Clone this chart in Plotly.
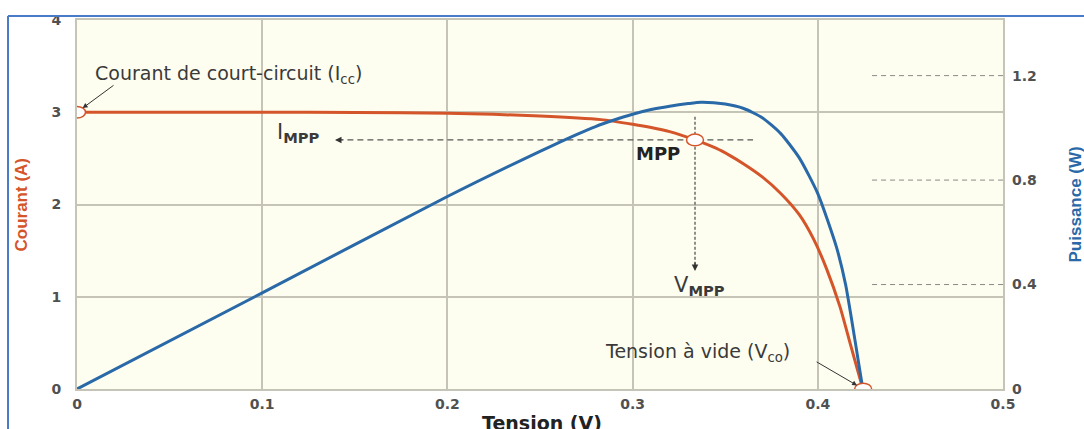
import plotly.graph_objects as go

# ---- data ----
tension_i = [0, 0.05, 0.1, 0.15, 0.2, 0.25, 0.283, 0.30, 0.31, 0.32, 0.3337, 0.345, 0.3526, 0.36, 0.37, 0.38, 0.39, 0.3976, 0.4048, 0.412, 0.4174, 0.4228, 0.4243]
courant = [3.0, 3.0, 3.0, 2.998, 2.99, 2.96, 2.92, 2.87, 2.835, 2.79, 2.70, 2.61, 2.53, 2.44, 2.30, 2.12, 1.89, 1.63, 1.30, 0.89, 0.50, 0.11, 0.0]

tension_p = [0, 0.1, 0.2, 0.25, 0.261, 0.27, 0.28, 0.29, 0.30, 0.31, 0.32, 0.33, 0.337, 0.35, 0.36, 0.37, 0.38, 0.39, 0.40, 0.41, 0.415, 0.42, 0.4243]
puissance = [0, 0.368, 0.737, 0.91, 0.946, 0.975, 1.005, 1.030, 1.052, 1.070, 1.083, 1.093, 1.098, 1.091, 1.074, 1.039, 0.978, 0.885, 0.748, 0.545, 0.40, 0.19, 0.0]

x_ticks = [0, 0.1, 0.2, 0.3, 0.4, 0.5]
x_tick_labels = ["0", "0.1", "0.2", "0.3", "0.4", "0.5"]
y_ticks = [0, 1, 2, 3, 4]
y2_ticks = [0, 0.4, 0.8, 1.2]
y2_tick_labels = ["0", "0.4", "0.8", "1.2"]

icc = (0, 3.0)
mpp = (0.3337, 2.70)
vco = (0.4245, 0.0)
points_v = [icc[0], mpp[0], vco[0]]
points_i = [icc[1], mpp[1], vco[1]]

ORANGE = "#D5552A"
BLUE = "#2A69A8"
GRID = "#C6C4B6"
TXT = "#3A3A3A"
FONT = "DejaVu Sans, Liberation Sans, Arial, sans-serif"
TFONT = "Liberation Sans, Arial, sans-serif"

fig = go.Figure()

fig.add_trace(go.Scatter(x=tension_p, y=puissance, mode="lines", yaxis="y2",
                         line=dict(color=BLUE, width=3, shape="spline", smoothing=0.6),
                         hoverinfo="skip"))
fig.add_trace(go.Scatter(x=tension_i, y=courant, mode="lines",
                         line=dict(color=ORANGE, width=3, shape="spline", smoothing=0.6),
                         hoverinfo="skip"))

# MPP dashed guides
fig.add_trace(go.Scatter(x=[0.146, 0.365], y=[mpp[1], mpp[1]], mode="lines",
                         line=dict(color="#555", width=1.3, dash="6px,4px"), hoverinfo="skip"))
fig.add_trace(go.Scatter(x=[mpp[0], mpp[0]], y=[2.95, 1.33], mode="lines",
                         line=dict(color="#555", width=1.3, dash="3px,2px"), hoverinfo="skip"))

# right-axis dashed tick guides
for v in y2_ticks[1:]:
    fig.add_trace(go.Scatter(x=[0.4293, 0.5], y=[v, v], mode="lines", yaxis="y2",
                             line=dict(color="#8A8A8A", width=1, dash="5px,4px"), hoverinfo="skip"))

# open (slightly stretched) markers anchored on the data points
shapes = []
for v, i in zip(points_v, points_i):
    shapes.append(dict(type="circle", xref="x", yref="y", xsizemode="pixel", ysizemode="pixel",
                       xanchor=v, yanchor=i, x0=-8.5, x1=8.5, y0=-5.8, y1=5.8,
                       fillcolor="white", line=dict(color=ORANGE, width=1.5), layer="above"))

ann = []
# Icc
ann.append(dict(x=0.0086, y=3.41, xref="x", yref="y", text="Courant de court-circuit (I<sub>cc</sub>)",
                showarrow=False, xanchor="left", yanchor="middle", font=dict(size=19, color=TXT, family=FONT)))
ann.append(dict(x=icc[0], y=icc[1], xref="x", yref="y", text="", showarrow=True, ax=38, ay=-28,
                arrowhead=2, arrowsize=1, arrowwidth=1, arrowcolor="#333", standoff=7))
# IMPP
ann.append(dict(x=0.107, y=2.77, xref="x", yref="y",
                text="I<sub><b>MPP</b></sub>", showarrow=False,
                xanchor="left", yanchor="middle", font=dict(size=21, color=TXT, family=FONT)))
ann.append(dict(x=0.1393, y=mpp[1], xref="x", yref="y", text="", showarrow=True, ax=10, ay=0,
                arrowhead=2, arrowsize=1, arrowwidth=1.3, arrowcolor="#333"))
# MPP
ann.append(dict(x=0.3137, y=2.55, xref="x", yref="y", text="<b>MPP</b>", showarrow=False,
                xanchor="center", yanchor="middle", font=dict(size=18, color="#222", family=FONT)))
# VMPP
ann.append(dict(x=mpp[0], y=1.28, xref="x", yref="y", text="", showarrow=True, ax=0, ay=-10,
                arrowhead=2, arrowsize=1, arrowwidth=1.3, arrowcolor="#333"))
ann.append(dict(x=0.3359, y=1.12, xref="x", yref="y", text="V<sub><b>MPP</b></sub>", showarrow=False,
                xanchor="center", yanchor="middle", font=dict(size=21, color=TXT, family=FONT)))
# Vco
ann.append(dict(x=0.3348, y=0.40, xref="x", yref="y", text="Tension à vide (V<sub>co</sub>)", showarrow=False,
                xanchor="center", yanchor="middle", font=dict(size=19, color=TXT, family=FONT)))
ann.append(dict(x=vco[0], y=vco[1], xref="x", yref="y", text="", showarrow=True, ax=-48, ay=-28,
                arrowhead=2, arrowsize=1, arrowwidth=1, arrowcolor="#333", standoff=7))

# axis titles
ann.append(dict(x=-0.0594, y=0.5, xref="paper", yref="paper", text="<b>Courant (A)</b>", textangle=-90,
                showarrow=False, xanchor="center", yanchor="middle",
                font=dict(size=17, color=ORANGE, family=TFONT)))
ann.append(dict(x=1.0788, y=0.5, xref="paper", yref="paper", text="<b>Puissance (W)</b>", textangle=-90,
                showarrow=False, xanchor="center", yanchor="middle",
                font=dict(size=17, color=BLUE, family=TFONT)))
ann.append(dict(x=0.502, y=-0.0914, xref="paper", yref="paper", text="<b>Tension (V)</b>",
                showarrow=False, xanchor="center", yanchor="middle",
                font=dict(size=19, color="#222", family=FONT)))

shapes += [
    dict(type="line", xref="paper", yref="paper", x0=-0.0745, x1=1.2, y0=1.0108, y1=1.0108,
         line=dict(color="#4A7BC8", width=2)),
    dict(type="line", xref="paper", yref="paper", x0=-0.0745, x1=-0.0745, y0=1.0108, y1=-0.2,
         line=dict(color="#4A7BC8", width=2)),
]

tickfont = dict(size=14, color="#505050", family=FONT, weight="bold")

fig.update_layout(
    width=1084, height=429,
    margin=dict(l=77, r=81, t=17, b=40),
    paper_bgcolor="white", plot_bgcolor="#FEFEF0",
    showlegend=False,
    annotations=ann, shapes=shapes,
    xaxis=dict(range=[0, 0.5], tickvals=x_ticks, ticktext=x_tick_labels, showgrid=True,
               gridcolor=GRID, gridwidth=2, zeroline=False, showline=True, linecolor=GRID,
               linewidth=2, mirror=True, ticks="", tickfont=tickfont, ticklabelstandoff=1,
               fixedrange=True),
    yaxis=dict(range=[0, 4], tickvals=y_ticks, showgrid=True, gridcolor=GRID, gridwidth=2,
               zeroline=False, showline=True, linecolor=GRID, linewidth=2, mirror=True,
               ticks="", tickfont=tickfont, ticklabelstandoff=11, fixedrange=True),
    yaxis2=dict(range=[0, 1.413], overlaying="y", side="right", tickvals=y2_ticks,
                ticktext=y2_tick_labels, showgrid=False, zeroline=False, showline=False,
                ticks="", tickfont=tickfont, ticklabelstandoff=8, fixedrange=True),
)

fig.write_html("out.html", config={"displayModeBar": False},
               post_script="document.body.style.margin='0';")
